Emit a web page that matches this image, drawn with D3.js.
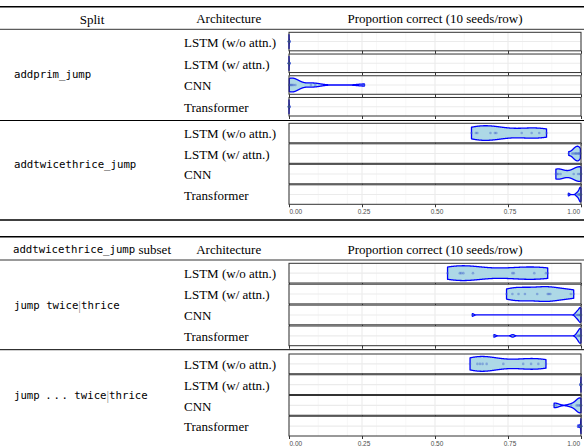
<!DOCTYPE html>
<html><head><meta charset="utf-8">
<script src="https://cdn.jsdelivr.net/npm/d3@7"></script>
<style>body{margin:0;background:#fff}</style>
</head><body><svg id="c" width="584" height="448"></svg>
<script>
// ---------------- data ----------------
const archs = ["LSTM (w/o attn.)", "LSTM (w/ attn.)", "CNN", "Transformer"];
const xTickValues = [0, 0.25, 0.5, 0.75, 1];
const xTickLabels = ["0.00", "0.25", "0.50", "0.75", "1.00"];
const headerTexts = ["Split", "Architecture", "Proportion correct (10 seeds/row)"];
const header2First = [["addtwicethrice_jump", "mono"], [" subset", "serif"]];
const splitLabels = [
  [["addprim_jump", "mono"]],
  [["addtwicethrice_jump", "mono"]],
  [["jump twice", "mono"], ["|", "bar"], ["thrice", "mono"]],
  [["jump ", "mono"], ["...", "dots"], [" twice", "mono"], ["|", "bar"], ["thrice", "mono"]]
];

// proportion correct, 10 seeds per row, rows in the order of `archs`
const addprimJump = [
  [0, 0, 0, 0, 0, 0, 0, 0.001, 0.001, 0.002],
  [0, 0, 0, 0, 0, 0, 0, 0.001, 0.001, 0.002],
  [0.001, 0.003, 0.006, 0.009, 0.012, 0.016, 0.022, 0.075, 0.09, 0.258],
  [0, 0, 0, 0, 0, 0, 0, 0.001, 0.001, 0.002]
];
const addtwicethriceJump = [
  [0.625, 0.64, 0.645, 0.69, 0.705, 0.71, 0.797, 0.831, 0.857, 0.882],
  [0.958, 0.97, 0.975, 0.98, 0.983, 0.985, 0.99, 0.992, 0.995, 0.998],
  [0.914, 0.918, 0.922, 0.93, 0.975, 0.99, 0.996, 1, 1, 1],
  [0.957, 0.985, 0.99, 0.993, 0.995, 0.997, 0.998, 0.999, 1, 1]
];
const jumpTwiceThrice = [
  [0.543, 0.585, 0.59, 0.597, 0.63, 0.765, 0.77, 0.84, 0.88, 0.886],
  [0.745, 0.765, 0.786, 0.808, 0.85, 0.886, 0.89, 0.895, 0.965, 0.975],
  [0.628, 0.982, 0.987, 0.99, 0.993, 0.996, 0.998, 0.999, 1, 1],
  [0.702, 0.766, 0.985, 0.99, 0.993, 0.996, 0.998, 0.999, 1, 1]
];
const jumpDotsTwiceThrice = [
  [0.62, 0.645, 0.654, 0.663, 0.677, 0.734, 0.802, 0.829, 0.854, 0.88],
  [0.998, 0.999, 0.999, 1, 1, 1, 1, 1, 1, 1],
  [0.908, 0.915, 0.966, 0.985, 0.99, 0.995, 0.998, 1, 1, 1],
  [0.99, 0.995, 0.998, 0.999, 1, 1, 1, 1, 1, 1]
];

// ---------------- layout ----------------
const W = 584;
const SERIF = "'Liberation Serif','Times New Roman',serif";
const MONO = "'DejaVu Sans Mono',monospace";
const SANS = "'Liberation Sans',Arial,sans-serif";
const svg = d3.select("#c");
const x = d3.scaleLinear().domain([0, 1]).range([289, 581]);

const tables = [
  { top: 6.7, headY: 18.5, headRule: 29.3, bottom: 220, first: [[headerTexts[0], "serif"]],
    groups: [
      { label: splitLabels[0], data: addprimJump, y0: 32.3, y1: 116, gap: 3.2, axis: false },
      { label: splitLabels[1], data: addtwicethriceJump, y0: 123.3, y1: 204.3, gap: 1, axis: true }
    ], sep: 120.5 },
  { top: 236.7, headY: 249, headRule: 260, bottom: null, first: header2First,
    groups: [
      { label: splitLabels[2], data: jumpTwiceThrice, y0: 263.3, y1: 345.7, gap: 1.2, axis: false },
      { label: splitLabels[3], data: jumpDotsTwiceThrice, y0: 354, y1: 436, gap: 1, axis: true }
    ], sep: 349.7 }
];

function rule(y, w) {
  svg.append("line").attr("x1", 0).attr("x2", W).attr("y1", y).attr("y2", y)
    .attr("stroke", "#000").attr("stroke-width", w);
}

function segText(sel, segs) {
  segs.forEach(([t, kind]) => {
    const ts = sel.append("tspan").text(t);
    if (kind === "mono") ts.attr("font-family", MONO).attr("font-size", 10.7);
    else if (kind === "serif") ts.attr("font-family", SERIF).attr("font-size", 13);
    else if (kind === "bar") ts.attr("font-family", SERIF).attr("font-size", 13).attr("fill", "#888");
    else if (kind === "dots") ts.attr("font-family", MONO).attr("font-size", 10.7).attr("dx", "-1 1.8 1.6");
  });
}

function bwNrd0(v) {
  const s = v.slice().sort(d3.ascending);
  const sd = d3.deviation(s) || 0;
  const iqr = d3.quantile(s, 0.75) - d3.quantile(s, 0.25);
  let lo = Math.min(sd, iqr / 1.34);
  if (!(lo > 0)) lo = sd || Math.abs(s[0]) || 1;
  return 0.9 * lo * Math.pow(s.length, -0.2);
}

function kde(v) {
  const bw = bwNrd0(v);
  const lo = d3.min(v), hi = d3.max(v), n = 512;
  return d3.range(n).map(i => {
    const t = lo + (hi - lo) * i / (n - 1);
    let s = 0;
    for (const p of v) { const z = (t - p) / bw; s += Math.exp(-0.5 * z * z); }
    return { x: t, d: s / (v.length * bw) };
  });
}

const minorTicks = x.ticks(8).filter(t => !xTickValues.includes(t));

function panel(vals, top, h, withLabels) {
  const g = svg.append("g");
  const cy = top + h / 2;
  g.append("rect").attr("x", x(0)).attr("y", top).attr("width", x(1) - x(0)).attr("height", h).attr("fill", "#fff");
  g.selectAll(".mn").data(minorTicks).join("line")
    .attr("x1", d => x(d)).attr("x2", d => x(d)).attr("y1", top).attr("y2", top + h)
    .attr("stroke", "#f2f2f2").attr("stroke-width", 0.6);
  g.selectAll(".mj").data(xTickValues).join("line")
    .attr("x1", d => x(d)).attr("x2", d => x(d)).attr("y1", top).attr("y2", top + h)
    .attr("stroke", "#ebebeb").attr("stroke-width", 1.1);
  g.append("line").attr("x1", x(0)).attr("x2", x(1)).attr("y1", cy).attr("y2", cy)
    .attr("stroke", "#ebebeb").attr("stroke-width", 1.1);
  const dens = kde(vals);
  const maxd = d3.max(dens, d => d.d);
  const hw = 0.375 * h;
  const area = d3.area().x(d => x(d.x))
    .y0(d => cy + d.d / maxd * hw).y1(d => cy - d.d / maxd * hw);
  g.append("path").attr("d", area(dens)).attr("fill", "#add8e6")
    .attr("stroke", "#0000ff").attr("stroke-width", 1.3).attr("stroke-linejoin", "round");
  g.selectAll("circle").data(vals).join("circle")
    .attr("cx", d => x(d)).attr("cy", cy).attr("r", 1.3)
    .attr("fill", "#4466cc").attr("fill-opacity", 0.45);
  g.append("rect").attr("x", x(0)).attr("y", top).attr("width", x(1) - x(0)).attr("height", h)
    .attr("fill", "none").attr("stroke", "#333").attr("stroke-width", 1);
  const ax = svg.append("g").attr("transform", `translate(0,${top + h})`)
    .call(d3.axisBottom(x).tickValues(xTickValues).tickSize(3).tickPadding(2.5)
      .tickFormat((d, i) => withLabels ? xTickLabels[i] : ""));
  ax.select(".domain").remove();
  ax.selectAll(".tick line").attr("stroke", "#333").attr("stroke-width", 1);
  ax.selectAll(".tick text").attr("fill", "#4d4d4d").attr("font-family", SANS).attr("font-size", 6.5)
    .attr("text-anchor", (d, i) => i === 0 ? "start" : (i === xTickValues.length - 1 ? "end" : "middle"))
    .attr("dx", (d, i) => i === xTickValues.length - 1 ? -1.5 : (i === 0 ? 0 : 1.5));
}

tables.forEach(tb => {
  rule(tb.top, 1.6);
  const h1 = svg.append("text").attr("x", 92).attr("y", tb.headY).attr("text-anchor", "middle")
    .attr("dominant-baseline", "central").attr("fill", "#000");
  segText(h1, tb.first);
  svg.append("text").attr("x", 228.7).attr("y", tb.headY).attr("text-anchor", "middle")
    .attr("dominant-baseline", "central").attr("font-family", SERIF).attr("font-size", 13).text(headerTexts[1]);
  svg.append("text").attr("x", (x(0) + x(1)) / 2).attr("y", tb.headY).attr("text-anchor", "middle")
    .attr("dominant-baseline", "central").attr("font-family", SERIF).attr("font-size", 13).text(headerTexts[2]);
  rule(tb.headRule, 0.8);
  tb.groups.forEach(gr => {
    const h = (gr.y1 - gr.y0 - 3 * gr.gap) / 4;
    const lt = svg.append("text").attr("x", 14).attr("y", (gr.y0 + gr.y1) / 2)
      .attr("dominant-baseline", "central").attr("fill", "#000");
    segText(lt, gr.label);
    gr.data.forEach((vals, i) => {
      const top = gr.y0 + i * (h + gr.gap);
      svg.append("text").attr("x", 184).attr("y", top + h / 2 + 0.8).attr("dominant-baseline", "central")
        .attr("font-family", SERIF).attr("font-size", 13).text(archs[i]);
      panel(vals, top, h, gr.axis && i === 3);
    });
  });
  rule(tb.sep, 1);
  if (tb.bottom !== null) rule(tb.bottom, 1.6);
});
</script></body></html>
